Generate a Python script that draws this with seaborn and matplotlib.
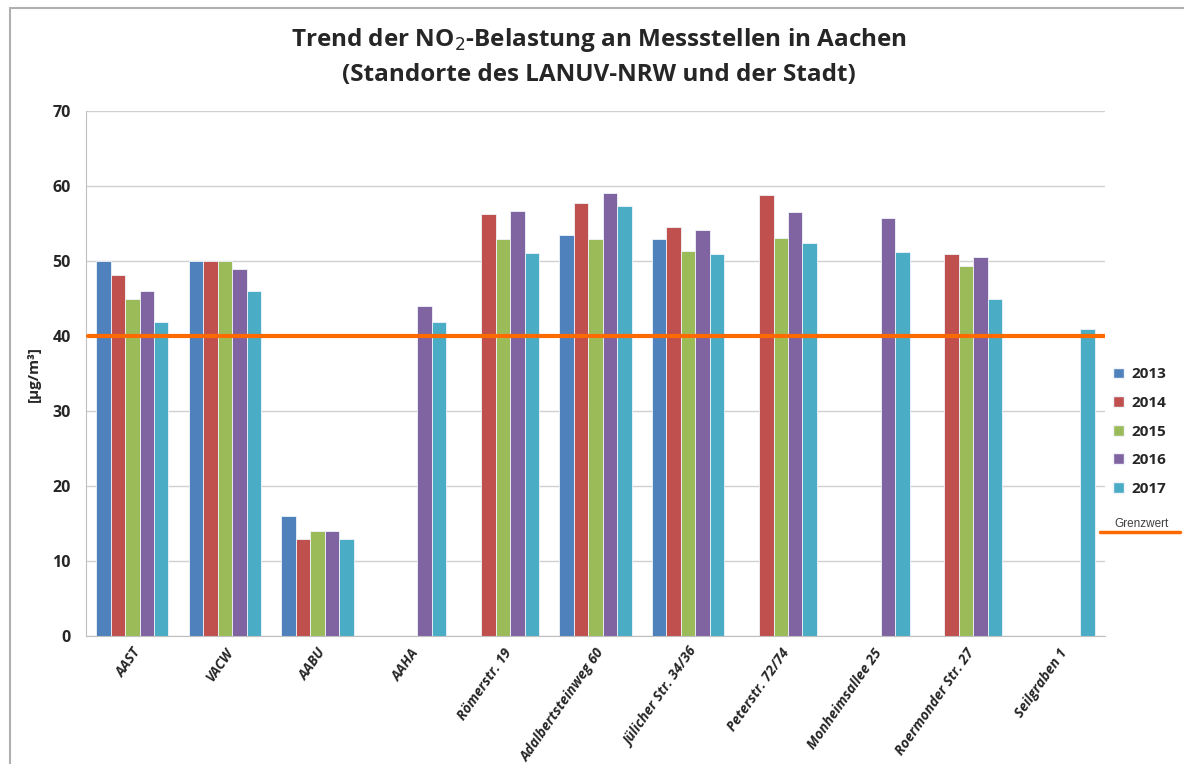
import numpy as np
import pandas as pd
import matplotlib
matplotlib.use("Agg")
import matplotlib.pyplot as plt
from matplotlib.lines import Line2D
from matplotlib.patches import Rectangle, Patch
import seaborn as sns

# Messstellen
stations = ["AAST", "VACW", "AABU", "AAHA", "Römerstr. 19", "Adalbertsteinweg 60",
            "Jülicher Str. 34/36", "Peterstr. 72/74", "Monheimsallee 25",
            "Roermonder Str. 27", "Seilgraben 1"]
years = ["2013", "2014", "2015", "2016", "2017"]
nan = np.nan
# NO2-Jahresmittel [µg/m³] je Jahr
v2013 = [50.0, 50.0, 16.0, nan, nan, 53.5, 52.9, nan, nan, nan, nan]
v2014 = [48.1, 50.0, 13.0, nan, 56.3, 57.8, 54.6, 58.8, nan, 50.9, nan]
v2015 = [45.0, 50.0, 14.0, nan, 53.0, 53.0, 51.3, 53.1, nan, 49.3, nan]
v2016 = [46.0, 49.0, 14.0, 44.0, 56.7, 59.1, 54.2, 56.5, 55.8, 50.5, nan]
v2017 = [41.9, 46.0, 13.0, 41.9, 51.1, 57.3, 51.0, 52.4, 51.2, 45.0, 40.9]
grenzwert = 40
colors = ["#4F81BD", "#C0504D", "#9BBB59", "#8064A2", "#4BACC6"]

df = pd.DataFrame({"Messstelle": stations * 5,
                   "Jahr": [y for y in years for _ in stations],
                   "Wert": v2013 + v2014 + v2015 + v2016 + v2017})

sns.set_style("white")
plt.rcParams["font.family"] = ["Open Sans", "DejaVu Sans"]

fig = plt.figure(figsize=(11.84, 7.64), dpi=100)
ax = fig.add_axes([0.0726, 0.1675, 0.8607, 0.6872])

sns.barplot(data=df, x="Messstelle", y="Wert", hue="Jahr", order=stations,
            hue_order=years, palette=colors, width=0.78, saturation=1,
            edgecolor="#F0F4FA", linewidth=0.6, errorbar=None, legend=False, ax=ax)

ax.axhline(grenzwert, color="#FF6A00", lw=3, zorder=5, xmin=0.002, xmax=1.0)

ax.set_xlim(-0.5, len(stations) - 0.5)
ax.set_ylim(0, 70)
ax.set_yticks(range(0, 71, 10))
ax.yaxis.grid(True, color="#D0D0D0", lw=1)
ax.set_axisbelow(True)
for s in ["top", "right"]:
    ax.spines[s].set_visible(False)
for s in ["left", "bottom"]:
    ax.spines[s].set_color("#BFBFBF")
ax.tick_params(axis="y", length=5, color="#BFBFBF", labelsize=11.5, pad=6)
ax.tick_params(axis="x", which="major", length=0, pad=7)
ax.set_xticks(np.arange(-0.5, len(stations)), minor=True)
ax.tick_params(axis="x", which="minor", length=5, color="#BFBFBF")
ax.set_xticklabels(stations, rotation=55, ha="right", rotation_mode="anchor",
                   fontsize=10, fontweight="bold", fontstyle="italic")
for t in ax.get_yticklabels():
    t.set_fontweight("bold")
ax.set_xlabel("")
ax.set_ylabel("[µg/m³]", fontsize=11, fontweight="bold", labelpad=8)

fig.text(0.506, 0.947, "Trend der NO$_2$-Belastung an Messstellen in Aachen",
         ha="center", va="center", fontsize=17.5, fontweight="bold")
fig.text(0.506, 0.902, "(Standorte des LANUV-NRW und der Stadt)",
         ha="center", va="center", fontsize=17.5, fontweight="bold")

handles = [Patch(facecolor=c, edgecolor="#F0F4FA", label=y) for c, y in zip(colors, years)]
fig.legend(handles=handles, loc="upper left", bbox_to_anchor=(0.935, 0.527),
           frameon=False, prop={"weight": "bold", "size": 11},
           handlelength=0.7, handleheight=0.7, handletextpad=0.5, labelspacing=0.95,
           borderaxespad=0)
fig.text(0.941, 0.314, "Grenzwert", fontsize=8.5, color="#404040",
         family="Liberation Sans", va="center")
fig.add_artist(Line2D([0.929, 0.997], [0.304, 0.304], color="#FF6A00", lw=2.5))

fig.add_artist(Rectangle((0.0085, -0.01), 1.1, 1.0, transform=fig.transFigure,
                         fill=False, edgecolor="#B0B0B0", lw=1.5))

fig.savefig("out.png", dpi=100)
